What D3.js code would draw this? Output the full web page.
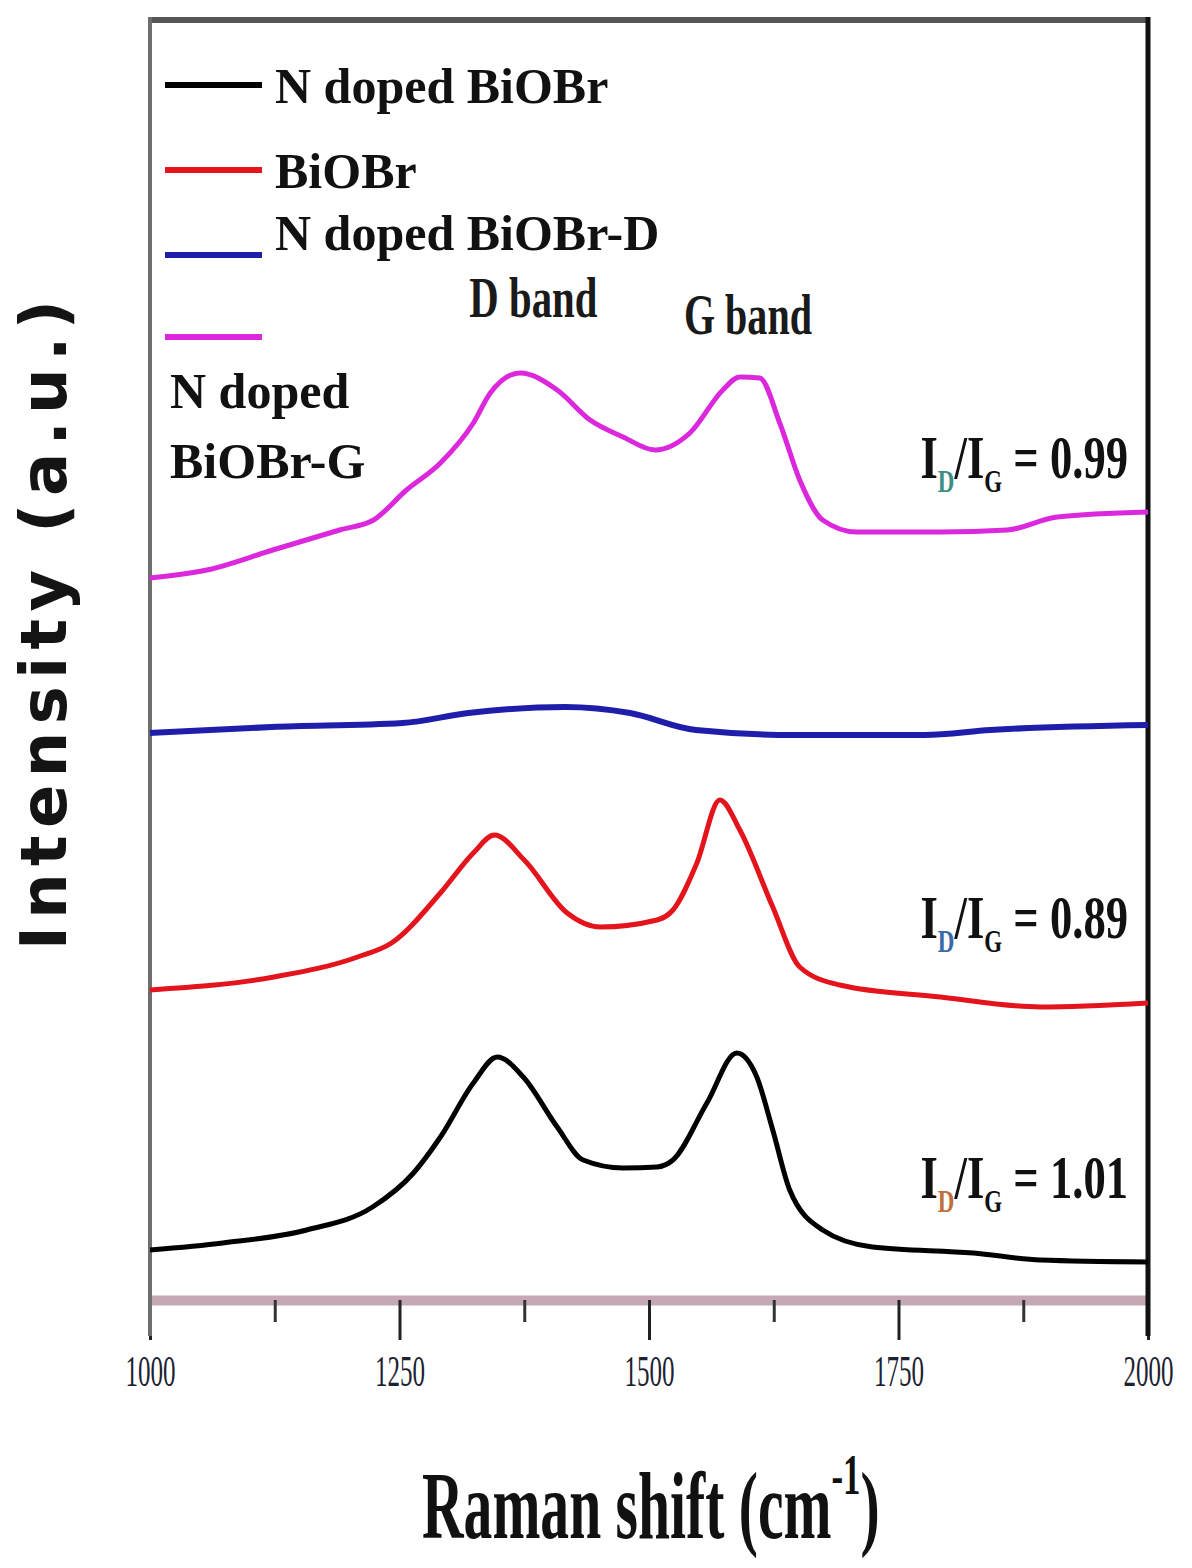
<!DOCTYPE html>
<html>
<head>
<meta charset="utf-8">
<script src="https://cdn.jsdelivr.net/npm/d3@7"></script>
<style>
  html, body { margin: 0; padding: 0; background: #fff; }
  svg { display: block; }
</style>
</head>
<body>
<script>
// values (Raman shift in cm-1, intensity in a.u.)
const seriesNames = ['N doped BiOBr', 'BiOBr', 'N doped BiOBr-D', 'N doped BiOBr-G'];
const seriesColors = ['#000000', '#e3141c', '#1e1eaa', '#dc28dc'];

const shiftN = [1000, 1073, 1157, 1223, 1264, 1291, 1324, 1348, 1374, 1408, 1434, 1474, 1508, 1524, 1558, 1588, 1608, 1624, 1641, 1674, 1724, 1825, 1892, 2000];
const intensityN = [5.0, 5.7, 7.0, 9.3, 12.7, 16.3, 21.7, 24.3, 22.3, 17.3, 14.0, 13.2, 13.3, 14.0, 19.7, 24.7, 22.3, 17.0, 11.0, 7.0, 5.3, 4.7, 4.0, 3.8];

const shiftB = [1000, 1124, 1208, 1242, 1291, 1324, 1345, 1375, 1418, 1451, 1508, 1524, 1548, 1571, 1591, 1624, 1651, 1691, 1792, 1892, 2000];
const intensityB = [31.0, 32.3, 34.3, 35.7, 40.7, 44.7, 46.5, 44.0, 38.7, 37.3, 38.0, 39.0, 43.7, 50.0, 47.0, 39.3, 33.3, 31.5, 30.3, 29.3, 29.7];

const shiftD = [1000, 1122, 1253, 1319, 1416, 1481, 1547, 1645, 1776, 1842, 2000];
const intensityD = [56.7, 57.3, 57.7, 58.7, 59.3, 58.7, 57.0, 56.5, 56.5, 57.0, 57.5];

const shiftG = [1000, 1057, 1123, 1190, 1224, 1257, 1291, 1324, 1341, 1371, 1408, 1441, 1474, 1506, 1541, 1574, 1591, 1611, 1631, 1651, 1674, 1708, 1792, 1859, 1909, 2000];
const intensityG = [72.2, 73.0, 75.0, 77.0, 78.0, 81.0, 83.7, 87.7, 90.7, 92.7, 91.0, 88.0, 86.3, 85.0, 86.7, 91.0, 92.3, 92.2, 87.7, 82.0, 78.0, 76.8, 76.8, 77.0, 78.3, 78.8];

const xTicks = [1000, 1250, 1500, 1750, 2000];
const xMinorTicks = [1125, 1375, 1625, 1875];
const ratioValues = ['0.99', '0.89', '1.01'];   // I_D/I_G for G, BiOBr, N doped
const bandLabels = ['D band', 'G band'];

const Chart = {};

Chart.config = function config() {
  const vm = this;
  vm.margin = { top: 20, right: 44, bottom: 268, left: 150 };
  vm.width = 1192 - vm.margin.left - vm.margin.right;
  vm.height = 1568 - vm.margin.top - vm.margin.bottom;
  vm.x = d3.scaleLinear().domain([1000, 2000]).range([0, vm.width]);
  vm.y = d3.scaleLinear().domain([0, 128]).range([vm.height, 0]);
  vm.series = [
    { name: seriesNames[0], color: seriesColors[0], pts: d3.zip(shiftN, intensityN) },
    { name: seriesNames[1], color: seriesColors[1], pts: d3.zip(shiftB, intensityB) },
    { name: seriesNames[2], color: seriesColors[2], pts: d3.zip(shiftD, intensityD) },
    { name: seriesNames[3], color: seriesColors[3], pts: d3.zip(shiftG, intensityG) }
  ];
};

Chart.draw = function draw() {
  const vm = this;
  const svg = d3.select('body').append('svg')
    .attr('width', 1192).attr('height', 1568);
  const g = svg.append('g').attr('transform', `translate(${vm.margin.left},${vm.margin.top})`);

  // bottom axis: thick mauve line, major + minor ticks pointing down
  const major = g.append('g').attr('transform', `translate(0,${vm.height})`)
    .call(d3.axisBottom(vm.x).tickValues(xTicks).tickSize(40).tickSizeOuter(0).tickFormat(d3.format('d')));
  major.select('.domain').attr('stroke', '#c6a8b4').attr('stroke-width', 10);
  major.selectAll('.tick line').attr('stroke', '#222').attr('stroke-width', 3);
  major.selectAll('.tick text')
    .attr('y', 86).attr('dy', 0)
    .attr('transform', 'scale(0.57,1)')
    .attr('fill', '#1c2230')
    .style('font-family', '"Liberation Serif", serif')
    .style('font-size', '44px');

  const minor = g.append('g').attr('transform', `translate(0,${vm.height})`)
    .call(d3.axisBottom(vm.x).tickValues(xMinorTicks).tickSize(22).tickFormat(''));
  minor.select('.domain').remove();
  minor.selectAll('.tick line').attr('stroke', '#333').attr('stroke-width', 3);

  // frame
  g.append('line').attr('x1', -2).attr('x2', vm.width + 2).attr('y1', 0).attr('y2', 0)
    .attr('stroke', '#555').attr('stroke-width', 6);
  g.append('line').attr('x1', 0).attr('x2', 0).attr('y1', -3).attr('y2', vm.height + 36)
    .attr('stroke', '#6e6e6e').attr('stroke-width', 4);
  g.append('line').attr('x1', vm.width).attr('x2', vm.width).attr('y1', -3).attr('y2', vm.height + 36)
    .attr('stroke', '#111').attr('stroke-width', 5);

  // spectra
  const line = d3.line()
    .x(d => vm.x(d[0]))
    .y(d => vm.y(d[1]))
    .curve(d3.curveMonotoneX);
  g.selectAll('.spectrum').data(vm.series).enter().append('path')
    .attr('class', 'spectrum')
    .attr('fill', 'none')
    .attr('stroke', d => d.color)
    .attr('stroke-width', (d, i) => i === 2 ? 6 : 5)
    .attr('stroke-linejoin', 'round')
    .attr('d', d => line(d.pts));

  // legend
  const legendY = [65, 150, 235, 317];
  const lg = g.append('g');
  vm.series.forEach((s, i) => {
    lg.append('line').attr('x1', 15).attr('x2', 112)
      .attr('y1', legendY[i]).attr('y2', legendY[i])
      .attr('stroke', s.color).attr('stroke-width', 6);
  });
  const legendText = lg.append('g')
    .style('font-family', '"Liberation Serif", serif')
    .style('font-weight', 'bold')
    .style('font-size', '50px')
    .attr('fill', '#111');
  legendText.append('text').attr('x', 125).attr('y', 83).text(seriesNames[0]);
  legendText.append('text').attr('x', 125).attr('y', 168).text(seriesNames[1]);
  legendText.append('text').attr('x', 125).attr('y', 230).text(seriesNames[2]);
  legendText.append('text').attr('x', 20).attr('y', 388).text('N doped');
  legendText.append('text').attr('x', 20).attr('y', 458).text('BiOBr-G');

  // band labels
  const band = g.append('g')
    .style('font-family', '"Liberation Serif", serif')
    .style('font-weight', 'bold')
    .style('font-size', '56px')
    .attr('fill', '#1a1a1a');
  band.append('text').attr('x', vm.x(1320)).attr('y', vm.y(98.3))
    .attr('textLength', 128).attr('lengthAdjust', 'spacingAndGlyphs').text(bandLabels[0]);
  band.append('text').attr('x', vm.x(1535)).attr('y', vm.y(96.6))
    .attr('textLength', 128).attr('lengthAdjust', 'spacingAndGlyphs').text(bandLabels[1]);

  // I_D/I_G annotations, squeezed horizontally like the original
  const ratioY = [82.2, 36.2, 10.2];
  const subColors = ['#3f8f86', '#3b6aa8', '#c0703c'];
  ratioValues.forEach((v, i) => {
    const t = g.append('g')
      .attr('transform', `translate(${vm.x(1772)},${vm.y(ratioY[i])}) scale(0.72,1)`)
      .append('text')
      .style('font-family', '"Liberation Serif", serif')
      .style('font-weight', 'bold')
      .style('font-size', '62px')
      .attr('fill', '#111');
    t.append('tspan').text('I');
    t.append('tspan').attr('dy', 14).style('font-size', '32px').attr('fill', subColors[i]).text('D');
    t.append('tspan').attr('dy', -14).text('/I');
    t.append('tspan').attr('dy', 14).style('font-size', '32px').text('G');
    t.append('tspan').attr('dy', -14).text(' = ' + v);
  });

  // axis titles
  const xt = svg.append('g')
    .attr('transform', 'translate(422,1538) scale(0.6,1)')
    .append('text')
    .style('font-family', '"Liberation Serif", serif')
    .style('font-weight', 'bold')
    .style('font-size', '96px')
    .attr('fill', '#111');
  xt.append('tspan').text('Raman shift (cm');
  xt.append('tspan').attr('dy', -44).style('font-size', '58px').text('-1');
  xt.append('tspan').attr('dy', 44).text(')');

  svg.append('text')
    .attr('transform', 'translate(66,625) rotate(-90)')
    .attr('text-anchor', 'middle')
    .attr('textLength', 650).attr('lengthAdjust', 'spacing')
    .style('font-family', '"DejaVu Sans", sans-serif')
    .style('font-weight', 'bold')
    .style('font-size', '64px')
    .attr('fill', '#141414')
    .text('Intensity (a.u.)');
};

Chart.config();
Chart.draw();
</script>
</body>
</html>
